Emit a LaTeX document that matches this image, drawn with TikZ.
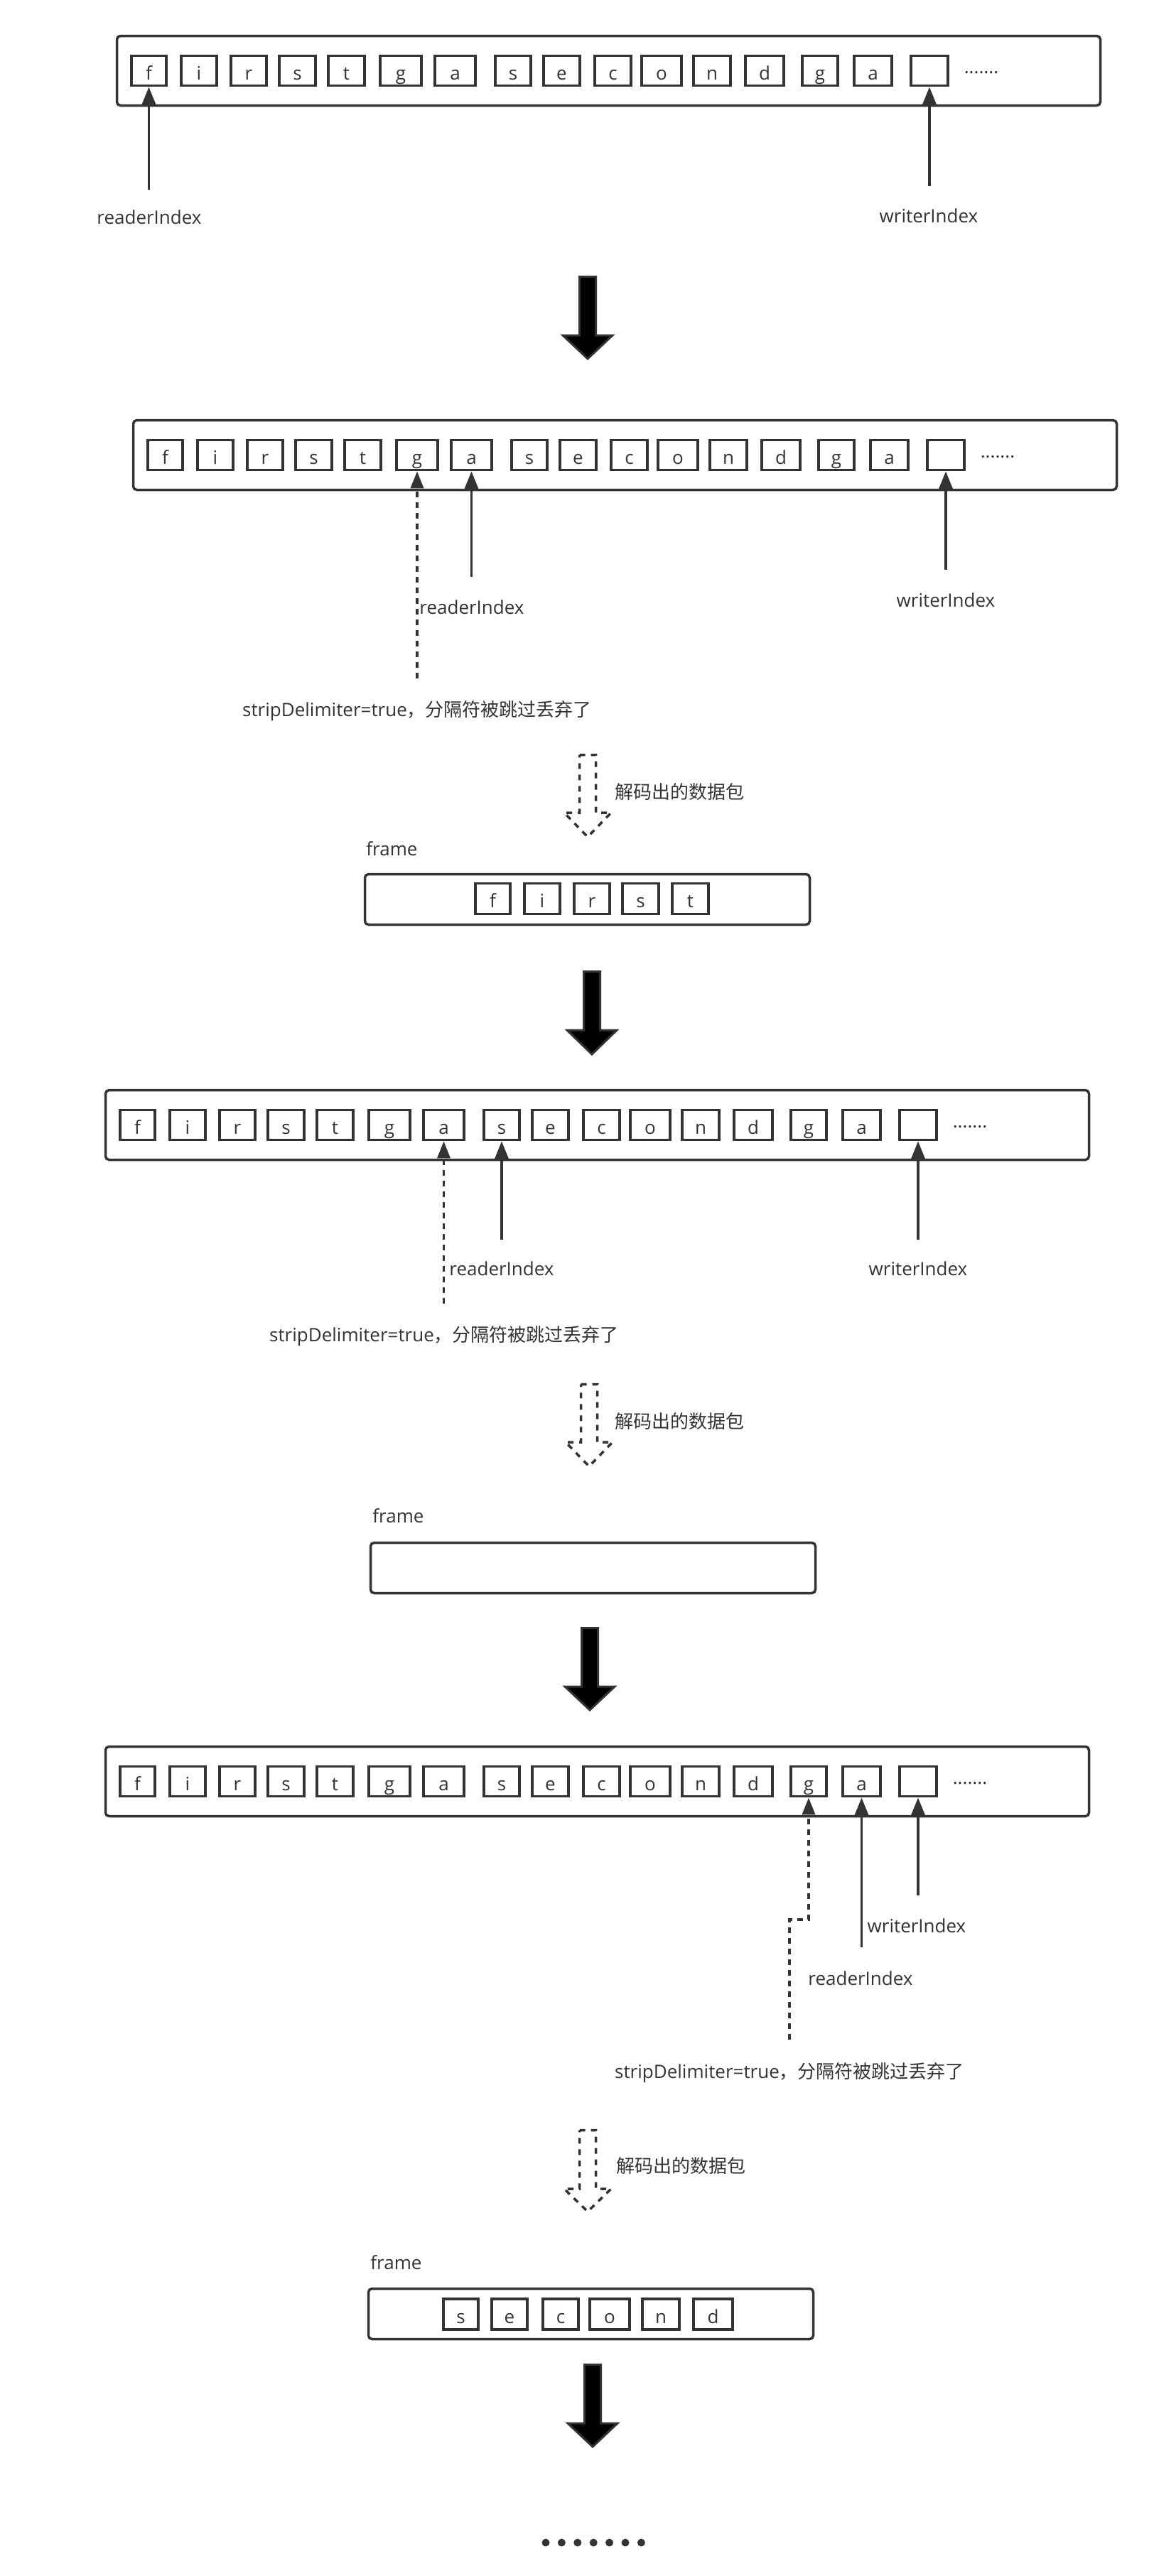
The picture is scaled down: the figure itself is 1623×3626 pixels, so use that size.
\documentclass[tikz,border=0pt]{standalone}
\usepackage{fontspec}
\setmainfont{Open Sans}
\newfontfamily\cjk{Noto Sans CJK SC}
\usetikzlibrary{arrows.meta}
\definecolor{ink}{HTML}{333333}
\tikzset{
  every node/.style={text=ink, font=\fontsize{13pt}{15pt}\selectfont},
  bufbox/.style={draw=ink, line width=1.75pt, rounded corners=2.5pt, inner sep=0pt, minimum height=49pt, minimum width=692pt},
  framebox/.style={draw=ink, line width=1.75pt, rounded corners=2.5pt, inner sep=0pt, minimum height=35.5pt, minimum width=313pt},
  cellbox/.style={draw=ink, line width=1.9pt, inner sep=0pt, minimum height=21pt, text height=12.5pt, text depth=0pt},
  lbl/.style={inner sep=0pt},
  dotstext/.style={inner sep=0pt, anchor=base},
  ptr/.style={draw=ink, line width=1.8pt, -{Triangle[length=13pt,width=10pt]}},
  dptr/.style={draw=ink, line width=1.9pt, dash pattern=on 4pt off 3.5pt, -{Triangle[length=12pt,width=9pt]}},
  bigarrow/.style={draw=ink, fill=black, line width=1.5pt, line join=miter},
  decarrow/.style={draw=ink, line width=1.75pt, dash pattern=on 4pt off 4pt},
}
% big block arrow: #1 style, #2 cx, #3 top, #4 head top, #5 tip, #6 shaft half width, #7 head half width
\newcommand\blockarr[7]{%
  \draw[#1] ({#2-#6},#3) -- ({#2+#6},#3) -- ({#2+#6},#4) -- ({#2+#7},#4) -- (#2,#5)
     -- ({#2-#7},#4) -- ({#2-#6},#4) -- cycle;}
% buffer row: #1 prefix, #2 dx, #3 dy
\newcommand\bufrow[3]{%
  \node[bufbox] (#1buf) at ({856.5+(#2)},{99.5+(#3)}) {};
  \foreach \l/\r/\t [count=\i] in {183/236/f,253/307/i,323/377/r,391/446/s,460/515/t,533/595/g,610/671/a,695/749/s,763/818/e,835/890/c,901/961/o,974/1030/n,1047/1105/d,1127/1181/g,1200/1257/a,1280/1336/{}}{
    \pgfmathsetmacro\w{0.5*(\r-\l-4)}
    \node[cellbox, minimum width=\w pt] (#1c\i) at ({(\l+\r)/2+(#2)},{99.5+(#3)}) {\t};
  }
  \node[dotstext] (#1dots) at ({1381+(#2)},{103+(#3)}) {.......};
}
% frame cells: #1 prefix, #2 cy, #3 list
\newcommand\framecells[3]{%
  \foreach \l/\r/\t [count=\i] in {#3}{
    \pgfmathsetmacro\w{0.5*(\r-\l-4)}
    \node[cellbox, minimum width=\w pt, minimum height=21.5pt] (#1f\i) at ({(\l+\r)/2},#2) {\t};
  }
}
\begin{document}
\begin{tikzpicture}[x=0.5pt, y=-0.5pt]
\fill[white] (0,0) rectangle (1623,3626);
\useasboundingbox (0,0) rectangle (1623,3626);

% ---------- row 1 ----------
\bufrow{A}{0}{0}
\coordinate (Ard) at (209.5,267);
\coordinate (Awr) at (1308,262);
\draw[ptr] (Ard) -- (Ac1.south);
\draw[ptr] (Awr) -- (Ac16.south);
\node[lbl] (Ardl) at (210,306) {readerIndex};
\node[lbl] (Awrl) at (1307,304) {writerIndex};

\blockarr{bigarrow}{827}{389.5}{472}{505}{11.5}{35}

% ---------- row 2 ----------
\bufrow{B}{23}{541}
\coordinate (Bds) at (587,955);
\coordinate (Brd) at (663.5,812);
\coordinate (Bwr) at (1331,802);
\draw[dptr] (Bds) -- (Bc6.south);
\draw[ptr] (Brd) -- (Bc7.south);
\draw[ptr] (Bwr) -- (Bc16.south);
\node[lbl] (Brdl) at (664,855) {readerIndex};
\node[lbl] (Bwrl) at (1331,845) {writerIndex};
\node[lbl] (Bstrip) at (587,1001) {stripDelimiter=true{\cjk ，分隔符被跳过丢弃了}};

\blockarr{decarrow}{827}{1062.5}{1144}{1178}{11.5}{33}
\node[lbl, anchor=west] (Bdec) at (865,1115) {\cjk 解码出的数据包};
\node[lbl, anchor=west] (Bfl) at (515,1195) {frame};
\node[framebox] (Bframe) at (826.5,1266) {};
\framecells{B}{1265}{667/720/f,736/790/i,806/860/r,874/929/s,944/999/t}

\blockarr{bigarrow}{833}{1367.5}{1450}{1484}{11.5}{35}

% ---------- row 3 ----------
\bufrow{C}{-16}{1484}
\coordinate (Cds) at (624.5,1835);
\coordinate (Crd) at (706,1745);
\coordinate (Cwr) at (1292,1745);
\draw[dptr] (Cds) -- (Cc7.south);
\draw[ptr] (Crd) -- (Cc8.south);
\draw[ptr] (Cwr) -- (Cc16.south);
\node[lbl] (Crdl) at (706,1786) {readerIndex};
\node[lbl] (Cwrl) at (1292,1786) {writerIndex};
\node[lbl] (Cstrip) at (625,1881) {stripDelimiter=true{\cjk ，分隔符被跳过丢弃了}};

\blockarr{decarrow}{829}{1948.5}{2030}{2064}{11.5}{33}
\node[lbl, anchor=west] (Cdec) at (865,2001) {\cjk 解码出的数据包};
\node[lbl, anchor=west] (Cfl) at (524,2134) {frame};
\node[framebox] (Cframe) at (834.5,2207) {};

\blockarr{bigarrow}{830}{2291.5}{2374}{2407}{11.5}{35}

% ---------- row 4 ----------
\bufrow{D}{-16}{2408}
\coordinate (Dds) at (1111,2871);
\coordinate (Drd) at (1212.5,2741);
\coordinate (Dwr) at (1292,2668);
\draw[dptr] (Dds) -- (1111,2702) -| (Dc14.south);
\draw[ptr] (Drd) -- (Dc15.south);
\draw[ptr] (Dwr) -- (Dc16.south);
\node[lbl] (Drdl) at (1211,2785) {readerIndex};
\node[lbl] (Dwrl) at (1290,2711) {writerIndex};
\node[lbl] (Dstrip) at (1111,2918) {stripDelimiter=true{\cjk ，分隔符被跳过丢弃了}};

\blockarr{decarrow}{827}{2998.5}{3081}{3113}{11.5}{33}
\node[lbl, anchor=west] (Ddec) at (867,3049) {\cjk 解码出的数据包};
\node[lbl, anchor=west] (Dfl) at (521,3185) {frame};
\node[framebox] (Dframe) at (831.5,3257) {};
\framecells{D}{3257.5}{622/675/s,690/744/e,762/816/c,828/888/o,902/958/n,974/1033/d}

\blockarr{bigarrow}{834}{3328.5}{3411}{3444}{11.5}{35}

% ---------- trailing dots ----------
\foreach \k in {0,...,6}{
  \fill[ink] ({768+22.4*\k},3579) circle[radius=5.5];
}
\end{tikzpicture}
\end{document}
